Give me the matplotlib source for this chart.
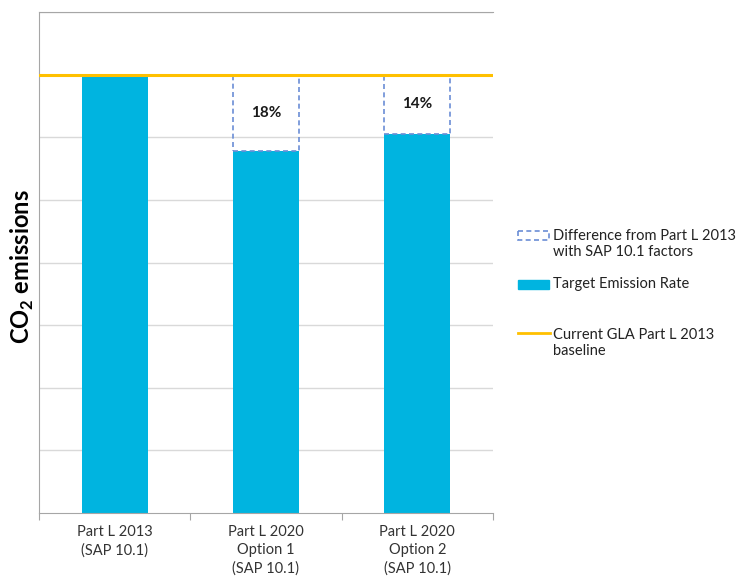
import matplotlib.pyplot as plt
import matplotlib.patches as mpatches
from matplotlib.lines import Line2D
import numpy as np

plt.rcParams['font.family'] = ['Lato', 'DejaVu Sans']
plt.rcParams['mathtext.fontset'] = 'custom'
plt.rcParams['mathtext.rm'] = 'Lato'
plt.rcParams['mathtext.bf'] = 'Lato:bold'

# data (arbitrary units, axis 0..8)
categories = ["Part L 2013\n(SAP 10.1)", "Part L 2020\nOption 1\n(SAP 10.1)", "Part L 2020\nOption 2\n(SAP 10.1)"]
ter = [7.0, 5.78, 6.05]
baseline = 7.0
pct_labels = ["", "18%", "14%"]

bar_col = '#00B4E0'
gla_col = '#FFC000'
diff_col = '#6B8ED6'
grey = '#A6A6A6'

fig = plt.figure(figsize=(7.37, 5.81), dpi=100)
ax = fig.add_axes([39/737, 68/581, 454/737, 501/581])

x = np.arange(len(categories))
ax.bar(x, ter, width=0.434, color=bar_col, zorder=2)

# dashed boxes showing the gap up to the Part L 2013 level
diff = [baseline - v for v in ter]
for i in range(len(x)):
    if diff[i] > 0:
        ax.bar(x[i], diff[i], bottom=ter[i], width=0.434, fill=False,
               edgecolor=diff_col, linestyle=(0, (3, 2)), linewidth=1.2, zorder=3)
        ax.text(x[i], ter[i] + diff[i] / 2, pct_labels[i], ha='center', va='center',
                fontsize=11, fontweight='bold', color='#1a1a1a')

ax.axhline(baseline, color=gla_col, linewidth=2.2, zorder=4)

ax.set_xlim(-0.5, 2.5)
ax.set_ylim(0, 8)
ax.set_yticks(np.arange(1, 9))
ax.set_yticklabels([])
ax.tick_params(axis='y', length=0)
ax.yaxis.grid(True, color='#D9D9D9', linewidth=1)
ax.set_axisbelow(True)

ax.set_xticks([-0.5, 0.5, 1.5, 2.5])
ax.set_xticklabels([])
ax.tick_params(axis='x', which='major', length=5, color=grey, direction='out')
ax.set_xticks(x, minor=True)
ax.set_xticklabels(categories, minor=True, fontsize=10.5, color='#333333', linespacing=1.35)
ax.tick_params(axis='x', which='minor', length=0, pad=9)

for s in ['left', 'top', 'bottom']:
    ax.spines[s].set_color(grey)
ax.spines['right'].set_visible(False)

fig.text(22/737, 1 - 267/581, r'CO$_\mathbf{2}$ emissions', rotation=90, ha='center', va='center',
         fontsize=17, fontweight='bold', color='black')

# legend, drawn in pixel space on the right
lax = fig.add_axes([0, 0, 1, 1])
lax.set_xlim(0, 737)
lax.set_ylim(581, 0)
lax.axis('off')
lax.add_patch(mpatches.Rectangle((518, 231), 31, 9, fill=False, edgecolor=diff_col,
                                 linestyle=(0, (3, 2)), linewidth=1.2))
lax.text(553, 244, "Difference from Part L 2013\nwith SAP 10.1 factors", va='center', ha='left',
         fontsize=10.5, color='#222222', linespacing=1.25)
lax.add_patch(mpatches.Rectangle((518, 280), 31, 9, color=bar_col))
lax.text(553, 284, "Target Emission Rate", va='center', ha='left', fontsize=10.5, color='#222222')
lax.add_line(Line2D([518, 550], [333, 333], color=gla_col, linewidth=2))
lax.text(553, 343, "Current GLA Part L 2013\nbaseline", va='center', ha='left',
         fontsize=10.5, color='#222222', linespacing=1.25)

fig.savefig('out.png', dpi=100)
